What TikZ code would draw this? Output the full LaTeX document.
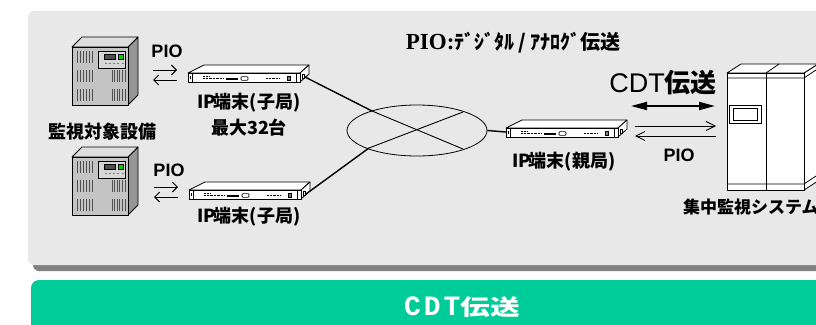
\documentclass[tikz,border=0pt]{standalone}
\usepackage{fontspec}
\usepackage{graphicx}
\setmainfont{Liberation Sans}
\setmonofont{Liberation Mono}
\newfontfamily\jp{Noto Sans CJK JP}
\newfontfamily\serfont{Liberation Serif}
\usetikzlibrary{arrows.meta,shapes.geometric}

\definecolor{panelgray}{RGB}{232,232,232}
\definecolor{shadowgray}{RGB}{128,128,128}
\definecolor{bargreen}{RGB}{0,204,153}
\definecolor{towerfront}{RGB}{196,196,196}
\definecolor{towertop}{RGB}{222,222,222}
\definecolor{towerside}{RGB}{150,150,150}
\definecolor{towerpanel}{RGB}{215,215,215}
\definecolor{ledgreen}{RGB}{0,210,0}
\definecolor{ventgray}{RGB}{80,80,80}

% half-width cell for Latin letters inside Japanese labels
\newcommand\hw[1]{\makebox[.5em]{#1}}

\tikzset{
  outline/.style={draw=black, line width=0.8pt, line join=round},
  jplbl/.style={inner sep=0pt, font=\jp\bfseries\fontsize{18}{18}\selectfont},
  piolbl/.style={inner sep=0pt, font=\bfseries\fontsize{18}{18}\selectfont},
  wire/.style={line width=1.4pt},
  crossline/.style={line width=0.9pt},
  pioarrow/.style={line width=0.9pt, -{Straight Barb[length=5pt,width=10pt]}},
  cdtarrow/.style={line width=1.8pt, {Triangle[length=16pt,width=8pt]}-{Triangle[length=16pt,width=8pt]}},
  % tower-type monitored unit, origin at front top-left corner
  tower/.pic={
    \path[outline, fill=towerside] (56,0) -- (66,-10) -- (66,48) -- (56,58) -- cycle;
    \path[outline, fill=towertop] (0,0) -- (10,-10) -- (66,-10) -- (56,0) -- cycle;
    \path[outline, fill=towerfront] (0,0) rectangle (56,58);
    \path[outline, fill=towerpanel] (26,4) rectangle (53,21);
    \path[draw=black, line width=0.5pt, fill=ventgray] (32,7) rectangle (43,12);
    \path[draw=black, line width=0.5pt, fill=ledgreen] (46,7) rectangle (51,12);
    \foreach \x in {33,37,41,45,50}
      \fill[ledgreen] (\x,15.5) rectangle ++(2,1.6);
    \foreach \y in {4,23,42}
      \foreach \x in {5,8,...,20}
        \draw[ventgray, line width=0.7pt] (\x,\y) -- ++(0,12);
    \foreach \y in {23,42}
      \foreach \x in {40,42.6,...,53.1}
        \draw[ventgray, line width=0.7pt] (\x,\y) -- ++(0,12);
    \coordinate (-east) at (66,24);
  },
  % 1U rack terminal, origin at front top-left corner
  rackunit/.pic={
    \path[outline, fill=white] (0,0) -- (16,-8) -- (121,-8) -- (112,0) -- cycle;
    \path[outline, fill=white] (112,0) -- (121,-8) -- (121,1) -- (112,9) -- cycle;
    \path[outline, fill=white] (0,0) rectangle (112,9);
    \draw[line width=0.6pt] (4,0) -- (4,9) (108,0) -- (108,9);
    \draw[line width=0.6pt] (2,3) -- (2,6) (114.5,1.5) rectangle (116.5,5.5);
    \draw[line width=0.9pt, dash pattern=on 0.7pt off 0.7pt] (15,3.2) -- (21,3.2);
    \draw[line width=0.9pt, dash pattern=on 0.7pt off 0.7pt] (15,5.6) -- (35,5.6);
    \fill (38,4.6) rectangle (50,6.6);
    \draw[line width=0.6pt, rounded corners=1pt] (53,3.6) rectangle (60,7.4);
    \draw[line width=0.9pt, dash pattern=on 0.7pt off 0.7pt] (78,5.6) -- (92,5.6);
    \path[draw=black, line width=0.5pt, fill=gray] (99,3) rectangle (102,7.5);
    \coordinate (-port) at (117,4);
    \coordinate (-west) at (0,4);
  },
}

\begin{document}
\begin{tikzpicture}[x=1pt, y=-1pt]
  \useasboundingbox (0,0) rectangle (816,324);
  \clip (0,0) rectangle (816,324);

  % background panel with its shadow
  \path[fill=shadowgray, rounded corners=6pt] (33,15) rectangle (840,271);
  \path[fill=panelgray, rounded corners=6pt] (28,11) rectangle (840,265);

  % caption bar
  \path[fill=bargreen, rounded corners=8pt] (31,280) rectangle (840,345);
  \node[inner sep=0pt, text=white] (bartitle) at (462,307)
    {{\fontsize{28}{28}\selectfont\ttfamily\bfseries C\kern3pt D\kern3pt T}{\jp\bfseries\fontsize{22}{22}\selectfont\scalebox{1.35}[1]{伝送}}};

  % monitored equipment
  \pic (t1) at (72,47) {tower};
  \pic (t2) at (72,157) {tower};
  \node[jplbl] (eqlbl) at (102,132) {監視対象設備};

  % remote terminals
  \pic (d1) at (188,73) {rackunit};
  \pic (d2) at (189,190) {rackunit};
  \node[jplbl] (d1lbl) at (248,103) {\hw{I}\hw{P}端末(子局)};
  \node[jplbl] (d1max) at (249,128) {最大32台};
  \node[jplbl] (d2lbl) at (248,217) {\hw{I}\hw{P}端末(子局)};

  % PIO between equipment and remote terminals
  \node[piolbl] (pio1) at (167,51) {PIO};
  \node[piolbl] (pio2) at (169,170) {PIO};
  \coordinate (a1s) at (153,70);  \coordinate (a1e) at (177,70);
  \coordinate (a2s) at (177,80);  \coordinate (a2e) at (153,80);
  \coordinate (b1s) at (154,187); \coordinate (b1e) at (178,187);
  \coordinate (b2s) at (178,197); \coordinate (b2e) at (154,197);
  \draw[pioarrow] (a1s) -- (a1e);
  \draw[pioarrow] (a2s) -- (a2e);
  \draw[pioarrow] (b1s) -- (b1e);
  \draw[pioarrow] (b2s) -- (b2e);

  % IP network
  \node[draw, ellipse, line width=0.8pt, minimum width=140, minimum height=51, inner sep=0pt] (net) at (417,130.5) {};
  \coordinate (x1) at (372,111);
  \coordinate (x2) at (463,149);
  \coordinate (x3) at (369,148);
  \coordinate (x4) at (463,112);
  \draw[wire] (d1-port) -- (x1);
  \draw[crossline] (x1) -- (x2);
  \draw[wire] (d2-port) -- (x3);
  \draw[crossline] (x3) -- (x4);

  % master terminal
  \pic (d3) at (506,128) {rackunit};
  \draw[wire] (net.east) -- (d3-west);
  \node[jplbl] (d3lbl) at (563,162) {\hw{I}\hw{P}端末(親局)};

  \node[inner sep=0pt] (ptitle) at (513,43)
    {{\serfont\bfseries\fontsize{23}{23}\selectfont PIO:}{\jp\bfseries\fontsize{20}{20}\selectfont ﾃﾞｼﾞﾀﾙ\kern4pt/\kern4pt ｱﾅﾛｸﾞ伝送}};

  % CDT and PIO links to the central system
  \node[inner sep=0pt] (cdt) at (663,83)
    {{\fontsize{27}{27}\selectfont CDT}{\jp\bfseries\fontsize{26}{26}\selectfont 伝送}};
  \coordinate (c1) at (631,106); \coordinate (c2) at (715,106);
  \draw[cdtarrow] (c1) -- (c2);
  \coordinate (r1s) at (635,126); \coordinate (r1e) at (716,126);
  \coordinate (r2s) at (716,136); \coordinate (r2e) at (635,136);
  \draw[line width=0.8pt, -{Straight Barb[length=9pt,width=9pt]}] (r1s) -- (r1e);
  \draw[line width=0.8pt, -{Straight Barb[length=9pt,width=9pt]}] (r2s) -- (r2e);
  \node[piolbl] (pio3) at (679,155) {PIO};

  % central monitoring cabinet
  \path[outline, fill=white] (804,73) -- (818,64) -- (818,181) -- (804,190) -- cycle;
  \path[outline, fill=white] (727,73) -- (741,64) -- (818,64) -- (804,73) -- cycle;
  \path[outline, fill=white] (727,73) rectangle (804,190);
  \draw[line width=0.8pt] (766,73) -- (779,64);
  \draw[line width=0.8pt] (727,78) -- (804,78) -- (816,70);
  \draw[line width=0.8pt] (727,184) -- (804,184) -- (816,176);
  \draw[line width=0.8pt] (766,73) -- (766,190);
  \draw[line width=0.8pt] (729,105) rectangle (761,123);
  \draw[line width=0.8pt] (733,108) rectangle (757,120);
  \node[jplbl, anchor=west, font=\jp\bfseries\fontsize{17}{17}\selectfont] (cablbl) at (683,207) {集中監視システム};
\end{tikzpicture}
\end{document}
